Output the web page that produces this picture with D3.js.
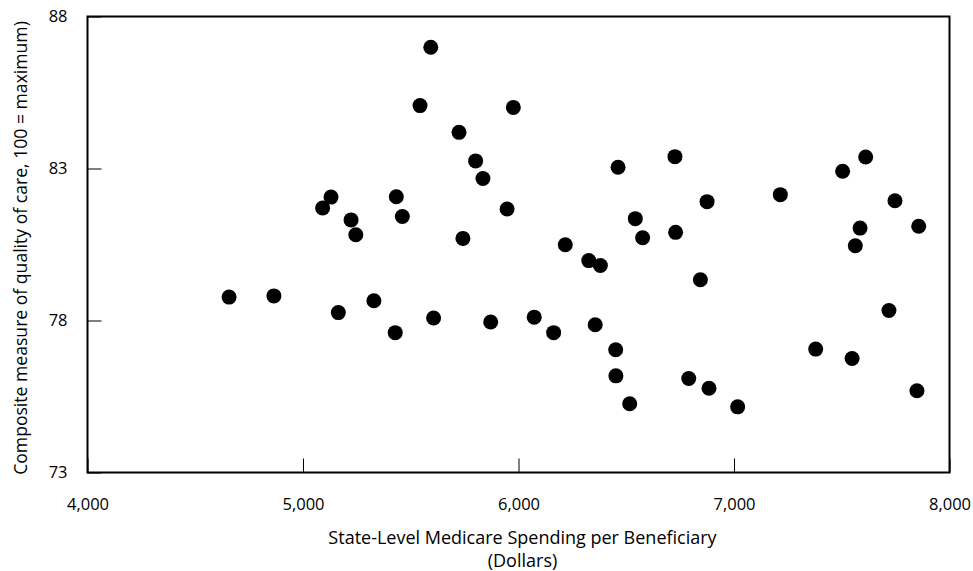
<!DOCTYPE html>
<html><head><meta charset="utf-8">
<script src="https://cdn.jsdelivr.net/npm/d3@7"></script>
<style>
body{margin:0;background:#fff;}
text{font-family:"Open Sans",sans-serif;fill:#000;}
</style></head>
<body><svg id="c" width="973" height="571"></svg>
<script>
const spending = [5593,5543,5976,5724,5801,5835,5130,5091,5433,5461,5223,5245,5947,5742,4657,4865,5164,5329,5428,5606,5871,6073,6726,6462,6875,6542,6576,6729,6217,6326,6380,6844,6163,6356,6451,6452,6790,6884,6516,7017,7611,7504,7215,7747,7585,7857,7563,7719,7379,7548,7849];
const quality  = [86.99,85.07,85.01,84.19,83.25,82.67,82.06,81.70,82.07,81.42,81.31,80.82,81.67,80.70,78.77,78.81,78.26,78.65,77.60,78.08,77.95,78.11,83.39,83.04,81.91,81.35,80.72,80.90,80.49,79.97,79.81,79.34,77.60,77.86,77.04,76.18,76.09,75.77,75.26,75.16,83.38,82.91,82.14,81.94,81.04,81.10,80.46,78.33,77.06,76.75,75.69];
const xTicks = [4000,5000,6000,7000,8000];
const yTicks = [73,78,83,88];
const xTitle = ["State-Level Medicare Spending per Beneficiary","(Dollars)"];
const yTitle = "Composite measure of quality of care, 100 = maximum)";

const svg = d3.select("#c");
const L=87.5,R=949.5,T=16.5,B=472.5;
const x = d3.scaleLinear().domain([4000,8000]).range([L,R]);
const y = d3.scaleLinear().domain([73,88]).range([B,T]);

const xa = svg.append("g").attr("transform",`translate(0,${B})`)
  .call(d3.axisBottom(x).tickValues(xTicks).tickSize(-14).tickPadding(26).tickFormat(d3.format(",")));
xa.select(".domain").remove();
xa.selectAll("line").attr("stroke","#000").attr("stroke-width",1);
xa.selectAll("text").attr("font-size",16.5).attr("font-family","Open Sans, sans-serif");

const ya = svg.append("g").attr("transform",`translate(${L},0)`)
  .call(d3.axisLeft(y).tickValues(yTicks).tickSize(-14).tickPadding(20));
ya.select(".domain").remove();
ya.selectAll("line").attr("stroke","#000").attr("stroke-width",1);
ya.selectAll("text").attr("font-size",16.5).attr("font-family","Open Sans, sans-serif");

svg.append("rect").attr("x",L).attr("y",T).attr("width",R-L).attr("height",B-T)
  .attr("fill","none").attr("stroke","#000").attr("stroke-width",2);

svg.append("g").selectAll("circle").data(spending.map((s,i)=>[s,quality[i]])).join("circle")
  .attr("cx",d=>x(d[0])).attr("cy",d=>y(d[1])).attr("r",7.5).attr("fill","#000");

svg.append("text").attr("x",522.5).attr("y",544).attr("text-anchor","middle").attr("font-size",18).text(xTitle[0]);
svg.append("text").attr("x",522.5).attr("y",567).attr("text-anchor","middle").attr("font-size",18).text(xTitle[1]);
svg.append("text").attr("transform",`translate(27,248) rotate(-90)`).attr("text-anchor","middle").attr("font-size",17.6).text(yTitle);
</script></body></html>
